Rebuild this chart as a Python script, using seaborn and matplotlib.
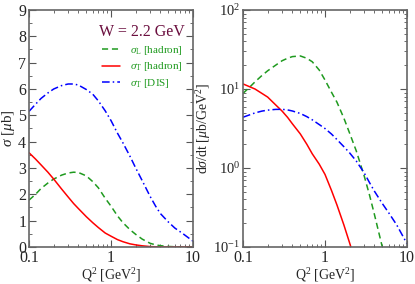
"""
sigma_L / sigma_T at W = 2.2 GeV
"""
import matplotlib
matplotlib.use('Agg')
import matplotlib.pyplot as plt
import matplotlib.ticker as mticker
import seaborn as sns

sns.set_style("ticks")
plt.rcParams['font.family'] = ['Liberation Serif', 'DejaVu Serif']
plt.rcParams['mathtext.fontset'] = 'custom'
plt.rcParams['mathtext.rm'] = 'Liberation Serif'
plt.rcParams['mathtext.it'] = 'Liberation Serif:italic'

# Q^2 grid (GeV^2)
q2 = [0.1, 0.12, 0.14, 0.17, 0.2, 0.25, 0.3, 0.35, 0.4, 0.5, 0.6, 0.7, 0.85,
      1.0, 1.2, 1.4, 1.7, 2.0, 2.4, 3.0, 3.5, 4.0, 5.0, 6.0, 7.5, 10.0]

# left panel: sigma [mub]
sigL_had = [1.78, 2.0, 2.22, 2.43, 2.58, 2.73, 2.81, 2.84, 2.83, 2.7, 2.48, 2.25, 1.85,
            1.55, 1.18, 0.92, 0.66, 0.48, 0.3, 0.14, 0.08, 0.05, 0.02, 0.01, 0.004, 0.001]
sigT_had = [3.58, 3.34, 3.12, 2.84, 2.58, 2.2, 1.9, 1.65, 1.46, 1.15, 0.92, 0.74, 0.53,
            0.41, 0.28, 0.2, 0.12, 0.08, 0.045, 0.015, 0.008, 0.004, 0.002, 0.001, 0.0005, 0.0002]
sigT_dis = [5.15, 5.42, 5.64, 5.85, 6.0, 6.13, 6.19, 6.19, 6.15, 5.98, 5.8, 5.55, 5.17,
            4.8, 4.32, 3.95, 3.45, 3.0, 2.52, 1.92, 1.55, 1.27, 0.95, 0.72, 0.51, 0.22]

# right panel: dsigma/dt [mub/GeV^2]
dL_had = [8.8, 10.5, 12.3, 14.8, 17.0, 20.0, 22.8, 24.5, 25.7, 26.2, 24.5, 22.1, 17.4,
          13.0, 9.1, 6.8, 4.27, 2.75, 1.66, 0.8, 0.45, 0.26, 0.1, 0.045, 0.016, 0.004]
dT_had = [11.6, 10.7, 10.0, 8.8, 7.9, 6.3, 5.25, 4.37, 3.63, 2.7, 2.0, 1.51, 1.12,
          0.83, 0.52, 0.34, 0.19, 0.112, 0.06, 0.025, 0.012, 0.006, 0.002, 0.001, 0.0005, 0.0002]
dT_dis = [4.39, 4.7, 4.98, 5.25, 5.4, 5.52, 5.53, 5.43, 5.27, 4.9, 4.47, 4.07, 3.55,
          3.16, 2.69, 2.29, 1.86, 1.55, 1.23, 0.87, 0.65, 0.51, 0.355, 0.27, 0.19, 0.11]

labels = [r'$\sigma_{\rm L}$ [hadron]', r'$\sigma_{\rm T}$ [hadron]', r'$\sigma_{\rm T}$ [DIS]']
green = '#1f9a1f'
styles = [dict(color=green, linestyle=(0, (4, 2.5))),
          dict(color='red', linestyle='-'),
          dict(color='blue', linestyle=(0, (5, 2, 1, 2)))]

fig = plt.figure(figsize=(4.15, 2.84), dpi=100)
ax1 = fig.add_axes([0.0699, 0.1303, 0.3952, 0.8345])
ax2 = fig.add_axes([0.5855, 0.1303, 0.3952, 0.8345])

for ys, lab, st in zip([sigL_had, sigT_had, sigT_dis], labels, styles):
    sns.lineplot(x=q2, y=ys, ax=ax1, label=lab, linewidth=1.1, **st)
for ys, st in zip([dL_had, dT_had, dT_dis], styles):
    sns.lineplot(x=q2, y=ys, ax=ax2, linewidth=1.1, **st)

for ax in (ax1, ax2):
    ax.set_xscale('log')
    ax.set_xlim(0.1, 10)
    ax.xaxis.set_major_formatter(mticker.FuncFormatter(lambda v, p: f'{v:g}'))
    ax.set_xlabel(r'Q$^2$ [GeV$^2$]', fontsize=10, labelpad=0)
    ax.tick_params(which='both', direction='in', top=True, right=True,
                   labelsize=11.5, color='#555555', pad=2)
    ax.tick_params(which='major', length=5)
    ax.tick_params(which='minor', length=2.5)
    for sp in ax.spines.values():
        sp.set_color('#666666')
        sp.set_linewidth(1.2)

ax1.set_ylim(0, 9)
ax1.yaxis.set_major_locator(mticker.MultipleLocator(1))
ax1.yaxis.set_minor_locator(mticker.MultipleLocator(0.5))
ax1.set_ylabel(r'$\sigma$ [$\mu$b]', fontsize=11, labelpad=1)

ax2.set_yscale('log')
ax2.set_ylim(0.1, 100)
ax2.tick_params(axis='y', labelsize=10.5)
ax2.set_ylabel(r'd$\sigma$/dt [$\mu$b/GeV$^2$]', fontsize=10)
ax2.yaxis.set_label_coords(-0.18, 0.5)

leg = ax1.legend(loc='upper right', bbox_to_anchor=(1.0, 0.975), frameon=False,
                 fontsize=8, handlelength=1.6, labelspacing=0.35, handletextpad=0.9,
                 borderaxespad=0.3, title='W = 2.2 GeV', title_fontsize=11.5)
leg.get_title().set_color('#6b0f3f')
for t in leg.get_texts():
    t.set_color(green)

plt.savefig('out.png', dpi=100)
plt.close()
